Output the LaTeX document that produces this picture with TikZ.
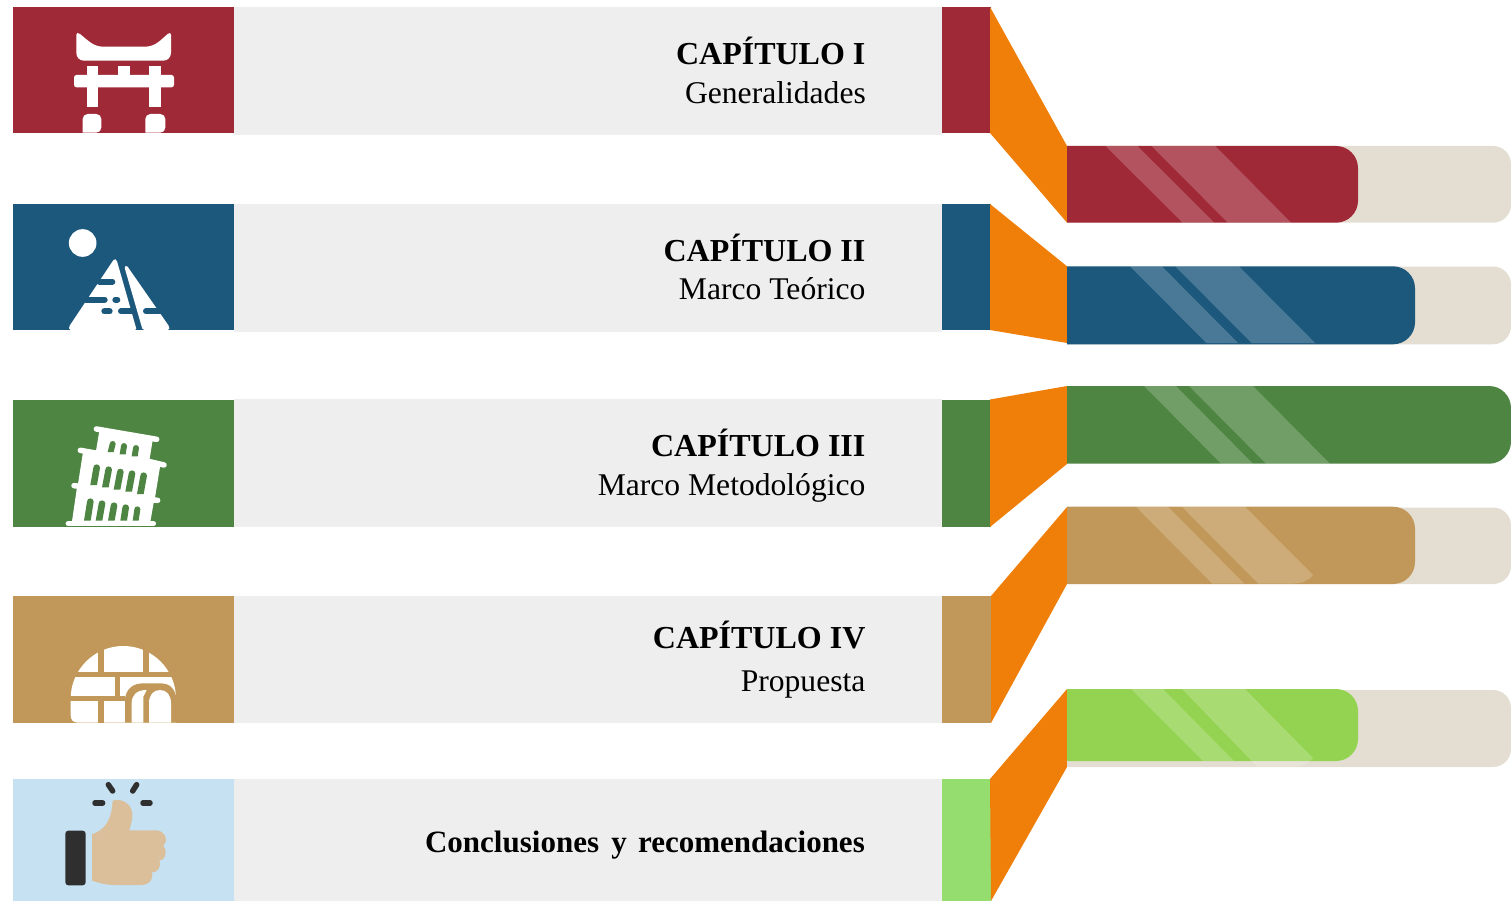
\documentclass[tikz,border=0pt]{standalone}
\usepackage{fontspec}
\setmainfont{Liberation Serif}
\definecolor{cRed}{HTML}{A02937}
\definecolor{cBlue}{HTML}{1C587C}
\definecolor{cGreen}{HTML}{4E8542}
\definecolor{cTan}{HTML}{C19859}
\definecolor{cLime}{HTML}{94D251}
\definecolor{cMint}{HTML}{95DD6E}
\definecolor{cSky}{HTML}{C5E1F2}
\definecolor{cOrange}{HTML}{F07F09}
\definecolor{cBack}{HTML}{E3DED1}
\definecolor{cGrey}{HTML}{EEEEEE}
\definecolor{cDark}{HTML}{2F2F2F}
\definecolor{cSkin}{HTML}{DBBF9B}
\tikzset{
  head/.style={anchor=base east,inner sep=0pt,font=\fontsize{32}{32}\selectfont\bfseries},
  sub/.style={anchor=base east,inner sep=0pt,font=\fontsize{31.6}{32}\selectfont},
  shine/.style={fill=white,fill opacity=0.2},
  zoomed/.style={x=0.33333pt,y=-0.33333pt}
}
\newcommand{\chrow}[6]{%
  \fill[cGrey] (234,#3) rectangle (942,#4);
  \fill[#5] (13,#1) rectangle (234,#2);
  \fill[#6] (942,#1) rectangle (990.5,#2);
}
\newcommand{\chbar}[4]{%
  \fill[#4] (1067,#2) [rounded corners=22pt] -- (#1,#2) -- (#1,#3) [sharp corners] -- (1067,#3) -- cycle;
}
\newcommand{\chback}[2]{%
  \fill[cBack] (1067,#1) [rounded corners=18pt] -- (1511,#1) -- (1511,#2) [sharp corners] -- (1067,#2) -- cycle;
}
\newcommand{\chwin}[5]{%
  \fill (#1-#5,#2) -- (#3-#5,#4+#5) .. controls (#3-#5,#4-#5*0.3) and (#3+#5,#4-#5*0.3) .. (#3+#5,#4+#5) -- (#1+#5,#2) -- cycle;
}
\begin{document}
\begin{tikzpicture}[x=1pt,y=-1pt]
\useasboundingbox (0,0) rectangle (1511,901);
% rows
\chrow{7}{133}{7}{135}{cRed}{cRed}
\chrow{204}{330}{204}{332}{cBlue}{cBlue}
\chrow{400}{527}{399}{527}{cGreen}{cGreen}
\chrow{596}{723}{596}{723}{cTan}{cTan}
\chrow{779}{901}{779}{901}{cSky}{cMint}
% orange funnels
\fill[cOrange] (990,7) -- (1067,146) -- (1067,222.7) -- (990,133) -- cycle;
\fill[cOrange] (990,204) -- (1067,266.3) -- (1067,343) -- (990,330) -- cycle;
\fill[cOrange] (990,399.5) -- (1067,386) -- (1067,464) -- (990,527) -- cycle;
\fill[cOrange] (991,596) -- (1067,507) -- (1067,584) -- (991,723) -- cycle;
\fill[cOrange] (990,779) -- (1067,689) -- (1067,767) -- (991,901) -- cycle;
% bars
\chback{146}{222.7}
\chbar{1358}{146}{222.7}{cRed}
\fill[shine] (1105.6,146) -- (1137.4,146) -- (1214.4,222.7) -- (1182.6,222.7) -- cycle;
\fill[shine] (1151.5,146) -- (1215.2,146) -- (1291,222.7) -- (1227.8,222.7) -- cycle;
\chback{266.5}{344.3}
\chbar{1415}{266.3}{344.3}{cBlue}
\fill[shine] (1130,266.3) -- (1161.9,266.3) -- (1238,343) -- (1206.3,343) -- cycle;
\fill[shine] (1175.2,266.3) -- (1238.9,266.3) -- (1315.2,343) -- (1251.5,343) -- cycle;
\chbar{1511}{386}{463.7}{cGreen}
\fill[shine] (1144,386) -- (1176,386) -- (1253,463.7) -- (1221,463.7) -- cycle;
\fill[shine] (1189,386) -- (1253,386) -- (1330,463.7) -- (1266,463.7) -- cycle;
\chback{507.5}{584}
\chbar{1415}{506.7}{584}{cTan}
\fill[shine] (1136,506.7) -- (1168,506.7) -- (1244,583.5) -- (1212,583.5) -- cycle;
\fill[shine] (1182,506.7) -- (1245,506.7) -- (1313,575) .. controls (1308,581) and (1302,583.5) .. (1293,583.5) -- (1258,583.5) -- cycle;
\chback{690}{767}
\chbar{1358}{689}{761}{cLime}
\fill[shine] (1131,689) -- (1163,689) -- (1234,761) -- (1203,761) -- cycle;
\fill[shine] (1182,689) -- (1245,689) -- (1313,758) .. controls (1308,764) and (1302,766.5) .. (1293,766.5) -- (1257,766.5) -- cycle;
% texts
\node[head] (t1) at (865.6,65) {CAPÍTULO I};
\node[sub]  (s1) at (866,104) {Generalidades};
\node[head] (t2) at (865.6,261.3) {CAPÍTULO II};
\node[sub]  (s2) at (865.6,299.5) {Marco Teórico};
\node[head] (t3) at (865.6,456.5) {CAPÍTULO III};
\node[sub]  (s3) at (865.6,495) {Marco Metodológico};
\node[head] (t4) at (865.6,648) {CAPÍTULO IV};
\node[sub]  (s4) at (865.6,691) {Propuesta};
\node[head,font=\fontsize{31}{32}\selectfont\bfseries] (t5) at (865,852) {Conclusiones\hspace{4.5pt} y\hspace{3.5pt} recomendaciones};
% torii
\begin{scope}[zoomed,white]
\fill (229,105) .. controls (229,98) and (233,97) .. (240,102) .. controls (265,122) and (280,140) .. (310,140) -- (435,140) .. controls (465,140) and (480,122) .. (503,102) .. controls (509,97) and (513,98) .. (513,105) -- (513,158) .. controls (513,172) and (503,182) .. (490,182) -- (252,182) .. controls (238,182) and (229,172) .. (229,158) -- cycle;
\fill (260,198) rectangle (295,322);
\fill (448,198) rectangle (483,322);
\fill (354,198) rectangle (389,240);
\fill[rounded corners=2.5pt] (222,225) rectangle (522,262);
\fill (248,398) [rounded corners=5pt] -- (248,342) -- (304,342) -- (304,398) [sharp corners] -- cycle;
\fill (436,398) [rounded corners=5pt] -- (436,342) -- (496,342) -- (496,398) [sharp corners] -- cycle;
% pyramid
\fill (248,729) circle[radius=41.5];
\fill[rounded corners=1.5pt] (207,990) -- (207,980) -- (343,776) -- (350,780) -- (410,990) -- cycle;
\fill[rounded corners=1.5pt] (428,990) -- (373,800) -- (380,796) -- (508,980) -- (508,990) -- cycle;
\end{scope}
\begin{scope}[zoomed,cBlue,line width=6pt,line cap=round]
\draw (298,845) -- (337,845);
\draw (258,899) -- (314,899);
\draw (346,899) -- (352,899);
\draw (313,934) -- (329,934);
\draw (363,934) -- (397,934);
\draw (438,934) -- (482,934);
\end{scope}
% tower
\begin{scope}[shift={(0,395)},zoomed]
\begin{scope}[white]
\fill (298,108) -- (458,136) -- (445,215) -- (285,185) -- cycle;
\fill (250,165) -- (481,210) -- (463,320) -- (232,280) -- cycle;
\fill (232,270) -- (463,312) -- (450,386) -- (215,386) -- cycle;
\begin{scope}[line width=5.5pt,line cap=round,draw=white]
\draw (289,102) -- (470,133);
\draw (241,166) -- (292,175);
\draw (445,199) -- (492,210);
\draw (222,272) -- (240,274);
\draw (460,315) -- (473,316);
\draw (205,386) -- (460,386);
\end{scope}
\end{scope}
\begin{scope}[cGreen]
\chwin{332}{171}{338}{138}{9}
\chwin{368}{178}{372}{144}{9}
\chwin{404}{184}{408}{150}{9}
\chwin{281}{270}{290}{208}{10}
\chwin{316}{277}{326}{214}{10}
\chwin{351}{284}{361}{221}{10}
\chwin{386}{290}{396}{226}{10}
\chwin{421}{297}{431}{232}{10}
\chwin{262}{377}{271}{310}{10}
\chwin{297}{377}{306}{316}{10}
\chwin{334}{377}{342}{322}{10}
\chwin{371}{377}{377}{328}{10}
\chwin{407}{377}{412}{334}{9}
\end{scope}
% igloo
\fill[white] (212,911) .. controls (212,824) and (283,753) .. (370,753) .. controls (457,753) and (528,824) .. (528,911) -- (528,983) -- (235,983) .. controls (220,983) and (212,975) .. (212,960) -- cycle;
\begin{scope}[cTan]
\fill (205,831) rectangle (535,846);
\fill (295,745) rectangle (311,831);
\fill (430,745) rectangle (447,831);
\fill (205,902) rectangle (375,918);
\fill (344,846) rectangle (360,902);
\fill (295,918) rectangle (311,983);
\fill (375,983) -- (375,910) .. controls (380,880) and (400,865) .. (430,865) -- (480,865) .. controls (510,865) and (525,880) .. (531,915) -- (531,983) -- cycle;
\end{scope}
\fill[white] (395,983) -- (395,925) .. controls (395,900) and (410,885) .. (440,885) -- (430,905) -- (430,983) -- cycle;
\fill[white] (447,983) -- (447,925) .. controls (447,900) and (460,885) .. (480,885) .. controls (500,885) and (513,900) .. (513,925) -- (513,983) -- cycle;
\end{scope}
% thumb
\begin{scope}[shift={(40,770)},zoomed]
\fill[cDark,rounded corners=3pt] (76,182) rectangle (137,346);
\fill[cSkin] (156,193) .. controls (195,180) and (215,150) .. (218,92) .. controls (240,85) and (272,95) .. (277,130) .. controls (278,150) and (272,165) .. (268,181) -- (350,181) .. controls (378,184) and (385,215) .. (370,228) .. controls (385,245) and (375,272) .. (358,272) .. controls (365,292) and (352,307) .. (335,308) .. controls (343,330) and (325,345) .. (305,345) -- (225,345) .. controls (195,345) and (175,338) .. (156,332) -- cycle;
\begin{scope}[cDark,line width=5.5pt,line cap=round]
\draw (205,44) -- (218,63);
\draw (290,44) -- (278,63);
\draw (165,99) -- (188,99);
\draw (309,99) -- (330,99);
\end{scope}
\end{scope}
\end{tikzpicture}
\end{document}
